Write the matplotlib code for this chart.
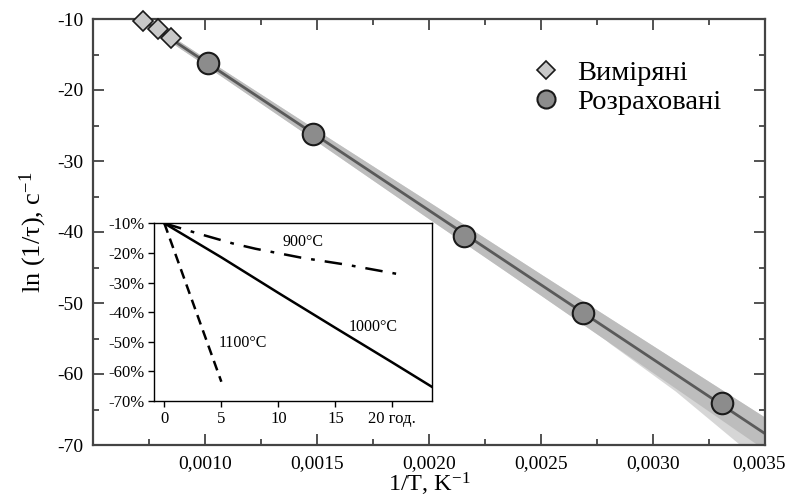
import numpy as np
import matplotlib.pyplot as plt
import matplotlib.transforms as mtransforms
from matplotlib.lines import Line2D

plt.rcParams['font.family'] = ['Liberation Serif', 'DejaVu Serif']
plt.rcParams['mathtext.default'] = 'regular'

# measured points (diamonds) and calculated points (circles)
meas_x = [0.000725, 0.000789, 0.000848]
meas_y = [-10.24, -11.45, -12.72]
calc_x = [0.001015, 0.001481, 0.002158, 0.002686, 0.003307]
calc_y = [-16.24, -26.24, -40.56, -51.37, -64.13]

# confidence band half-width along 1/T
band_x = [0.0005, 0.0010, 0.0015, 0.0020, 0.0025, 0.0030, 0.0035]
band_hw = [0.4, 0.5, 0.8, 1.2, 1.5, 1.9, 2.3]
fan_x = [0.0028, 0.0031, 0.0035]
fan_hw = [1.8, 2.4, 4.5]

xticks = [0.0010, 0.0015, 0.0020, 0.0025, 0.0030, 0.0035]
xtick_labels = ['0,0010', '0,0015', '0,0020', '0,0025', '0,0030', '0,0035']
yticks = [-10, -20, -30, -40, -50, -60, -70]
ytick_labels = ['-10', '-20', '-30', '-40', '-50', '-60', '-70']

# inset: relative change vs time (years)
t900 = [0, 3, 6, 8, 12, 16, 21]
v900 = [-10, -13.5, -16.8, -18.6, -21.6, -24.0, -27.5]
t1000 = [0, 5, 10, 15, 20, 23.5]
v1000 = [-10, -21.5, -33.5, -45.3, -57.0, -65.3]
t1100 = [0, 5]
v1100 = [-10, -63.5]
in_xticks = [0, 5, 10, 15, 20]
in_xlabels = ['0', '5', '10', '15', '20 год.']
in_yticks = [-10, -20, -30, -40, -50, -60, -70]
in_ylabels = ['-10%', '-20%', '-30%', '-40%', '-50%', '-60%', '-70%']

fig = plt.figure(figsize=(7.87, 5.0), dpi=100)
ax = fig.add_axes([93 / 787, 55 / 500, 672 / 787, 426 / 500])

all_x = np.array(meas_x + calc_x)
all_y = np.array(meas_y + calc_y)
k, b = np.polyfit(all_x, all_y, 1)
xx = np.linspace(0.0005, 0.0036, 200)
yy = k * xx + b
hw = np.interp(xx, band_x, band_hw)
fw = np.interp(xx, fan_x, fan_hw, left=0)
ax.fill_between(xx, yy - np.maximum(hw, fw), yy + hw, color='#d6d6d6', lw=0)
ax.fill_between(xx, yy - hw, yy + hw, color='#bdbdbd', lw=0)
ax.plot(xx, yy, color='#5a5a5a', lw=2)

ax.plot(meas_x, meas_y, 'D', ms=10, mfc='#c8c8c8', mec='#1a1a1a', mew=1.2,
        zorder=5, clip_on=False)
ax.plot(calc_x, calc_y, 'o', ms=15.5, mfc='#8c8c8c', mec='#1a1a1a', mew=1.5, zorder=5)

ax.set_xlim(0.0005, 0.0035)
ax.set_ylim(-70, -10)
ax.set_xticks(xticks)
ax.set_xticklabels(xtick_labels)
ax.set_xticks(np.arange(0.00075, 0.0035, 0.0005), minor=True)
ax.set_yticks(yticks)
ax.set_yticklabels(ytick_labels)
ax.set_yticks(np.arange(-15, -70, -10), minor=True)
ax.tick_params(which='both', direction='in', top=True, right=True,
               labelsize=14, color='#444444', width=1.3, pad=7)
ax.tick_params(which='major', length=8)
ax.tick_params(which='minor', length=4)
for s in ax.spines.values():
    s.set_color('#444444')
    s.set_linewidth(1.6)
ax.set_xlabel('1/T, K$^{-1}$', fontsize=17.5, labelpad=-1)
ax.set_ylabel('ln (1/τ), c$^{-1}$', fontsize=19, labelpad=6)

# last x label sits at the right edge, nudge it in a little
last = ax.get_xticklabels()[-1]
last.set_transform(last.get_transform() +
                   mtransforms.ScaledTranslation(-6 / 100, 0, fig.dpi_scale_trans))

handles = [
    Line2D([], [], marker='D', ls='none', ms=9, mfc='#c8c8c8', mec='#1a1a1a', mew=1.2),
    Line2D([], [], marker='o', ls='none', ms=13, mfc='#8c8c8c', mec='#1a1a1a', mew=1.5),
]
ax.legend(handles, ['Виміряні', 'Розраховані'], loc='upper left',
          bbox_to_anchor=(0.625, 0.931), bbox_transform=fig.transFigure,
          frameon=False, fontsize=20.5, handletextpad=0.1, labelspacing=0.1)

ins = fig.add_axes([154.3 / 787, 99 / 500, 278 / 787, 177.7 / 500])
ins.set_facecolor('white')
ins.plot(t900, v900, color='black', lw=1.8, dashes=(7, 4, 1.5, 4))
ins.plot(t1000, v1000, color='black', lw=1.8)
ins.plot(t1100, v1100, color='black', lw=1.8, dashes=(4, 2.5))
ins.text(12.2, -16.2, '900°C', fontsize=11.5, ha='center', va='center')
ins.text(18.3, -44.9, '1000°C', fontsize=11.5, ha='center', va='center')
ins.text(6.9, -50.4, '1100°C', fontsize=11.5, ha='center', va='center')
ins.set_xlim(-0.88, 23.5)
ins.set_ylim(-70, -10)
ins.set_xticks(in_xticks)
ins.set_xticklabels(in_xlabels)
ins.set_yticks(in_yticks)
ins.set_yticklabels(in_ylabels)
ins.tick_params(direction='out', length=4, width=1, labelsize=12, pad=3)
for s in ins.spines.values():
    s.set_linewidth(1)

fig.savefig('out.png', dpi=100)
